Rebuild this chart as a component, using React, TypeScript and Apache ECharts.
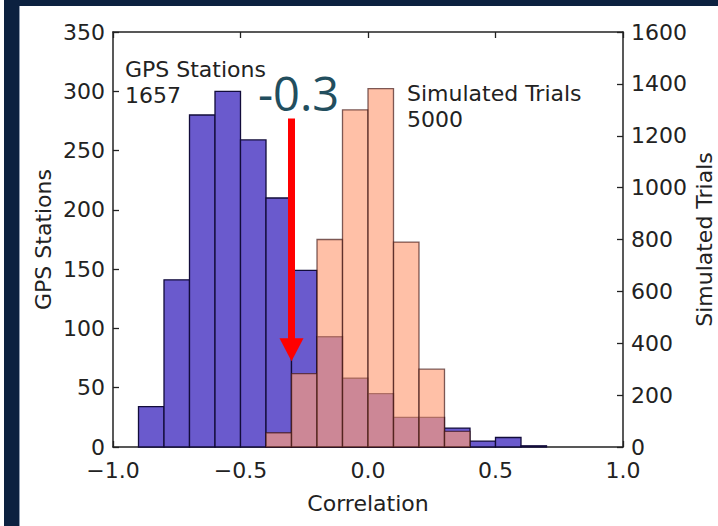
import React, { useEffect, useRef } from "react";
import * as echarts from "echarts";

// Histogram bins (left edge, width 0.1)
const binStarts = [-0.9, -0.8, -0.7, -0.6, -0.5, -0.4, -0.3, -0.2, -0.1, 0.0, 0.1, 0.2, 0.3, 0.4, 0.5, 0.6];
const binWidth = 0.1;
const gpsCounts = [34, 141, 280, 300, 259, 210, 149, 93, 58, 45, 25, 25, 16, 5, 8, 1];
const simCounts = [0, 0, 0, 0, 0, 55, 283, 800, 1300, 1382, 790, 300, 60, 0, 0, 0];
const gpsLabel = "GPS Stations";
const simLabel = "Simulated Trials";
const gpsTotal = "1657";
const simTotal = "5000";
const markerValue = -0.3;
const markerText = "-0.3";
const arrowStart = 277; // in GPS Stations units
const arrowEnd = 82;

const FONT = "DejaVu Sans";
const TXT = "#222";

function histData(counts: number[]) {
  const out: number[][] = [];
  counts.forEach((c, i) => {
    if (c > 0) out.push([binStarts[i], +(binStarts[i] + binWidth).toFixed(2), c]);
  });
  return out;
}

function makeRender(fill: string, stroke: string, opacity: number) {
  return (params: any, api: any) => {
    const x0 = api.value(0);
    const x1 = api.value(1);
    const v = api.value(2);
    const p0 = api.coord([x0, v]);
    const p1 = api.coord([x1, 0]);
    return {
      type: "rect",
      shape: { x: p0[0], y: p0[1], width: p1[0] - p0[0], height: p1[1] - p0[1] },
      style: { fill, stroke, lineWidth: 1.3, opacity },
    };
  };
}

const axisLine = { show: true, onZero: false, lineStyle: { color: "#222", width: 1.5 } };
const axisTick = { show: true, inside: true, length: 6, lineStyle: { color: "#222", width: 1.3 } };

export default function App() {
  const ref = useRef<HTMLDivElement>(null);
  useEffect(() => {
    if (!ref.current) return;
    const chart = echarts.init(ref.current, null, { renderer: "svg" });
    const fmtX = (v: number) => v.toFixed(1).replace("-", "\u2212");
    chart.setOption({
      animation: false,
      backgroundColor: "#ffffff",
      grid: { left: 113, right: 95, top: 32, bottom: 79, containLabel: false, outerBoundsMode: "none" },
      xAxis: [
        {
          type: "value",
          min: -1,
          max: 1,
          interval: 0.5,
          position: "bottom",
          name: "Correlation",
          nameLocation: "middle",
          nameGap: 45,
          nameMoveOverlap: false,
          nameTextStyle: { fontFamily: FONT, fontSize: 22, color: TXT },
          axisLine,
          axisTick,
          axisLabel: { fontFamily: FONT, fontSize: 22, color: TXT, margin: 12, formatter: fmtX },
          splitLine: { show: false },
        },
        {
          type: "value",
          min: -1,
          max: 1,
          interval: 0.5,
          position: "top",
          axisLine,
          axisTick,
          axisLabel: { show: false },
          splitLine: { show: false },
        },
      ],
      yAxis: [
        {
          type: "value",
          min: 0,
          max: 350,
          interval: 50,
          position: "left",
          name: gpsLabel,
          nameLocation: "middle",
          nameGap: 59,
          nameMoveOverlap: false,
          nameTextStyle: { fontFamily: FONT, fontSize: 22, color: TXT },
          axisLine,
          axisTick,
          axisLabel: { fontFamily: FONT, fontSize: 22, color: TXT, margin: 8, formatter: (v: number) => String(v) },
          splitLine: { show: false },
        },
        {
          type: "value",
          min: 0,
          max: 1600,
          interval: 200,
          position: "right",
          name: simLabel,
          nameLocation: "middle",
          nameGap: 70,
          nameMoveOverlap: false,
          nameTextStyle: { fontFamily: FONT, fontSize: 22, color: TXT },
          axisLine,
          axisTick,
          axisLabel: { fontFamily: FONT, fontSize: 22, color: TXT, margin: 8, formatter: (v: number) => String(v) },
          splitLine: { show: false },
        },
      ],
      series: [
        {
          type: "custom",
          name: gpsLabel,
          xAxisIndex: 0,
          yAxisIndex: 0,
          renderItem: makeRender("#6a5acd", "#120c3a", 1),
          encode: { x: [0, 1], y: 2 },
          data: histData(gpsCounts),
          z: 2,
        },
        {
          type: "custom",
          name: simLabel,
          xAxisIndex: 0,
          yAxisIndex: 1,
          renderItem: makeRender("#ffa07a", "#3a1010", 0.66),
          encode: { x: [0, 1], y: 2 },
          data: histData(simCounts),
          z: 3,
        },
        {
          type: "line",
          xAxisIndex: 0,
          yAxisIndex: 0,
          z: 5,
          silent: true,
          lineStyle: { color: "#ff0000", width: 7 },
          itemStyle: { color: "#ff0000" },
          showSymbol: true,
          data: [
            { value: [markerValue, arrowStart], symbol: "none" },
            { value: [markerValue, arrowEnd], symbol: "triangle", symbolRotate: 180, symbolSize: [24, 23] },
          ],
        },
      ],
      graphic: [
        { type: "rect", left: 4, top: 0, shape: { width: 15, height: 526 }, style: { fill: "#0c2140" }, z: 100 },
        { type: "rect", left: 4, top: 0, shape: { width: 714, height: 6 }, style: { fill: "#0c2140" }, z: 100 },
        { type: "rect", left: 19, top: 6, shape: { width: 1, height: 520 }, style: { fill: "#8f9cb0" }, z: 100 },
        {
          type: "text",
          left: 125,
          top: 56,
          z: 50,
          style: { text: gpsLabel + "\n" + gpsTotal, fontFamily: FONT, fontSize: 22, lineHeight: 26, fill: TXT },
        },
        {
          type: "text",
          left: 407,
          top: 80,
          z: 50,
          style: { text: simLabel + "\n" + simTotal, fontFamily: FONT, fontSize: 22, lineHeight: 26, fill: TXT },
        },
        {
          type: "text",
          left: 258,
          top: 69,
          z: 50,
          style: { text: markerText, fontFamily: "Open Sans", fontSize: 47, fill: "#224e5e" },
        },
      ],
    });
    return () => chart.dispose();
  }, []);
  return (
    <div
      ref={ref}
      style={{ position: "fixed", left: 0, top: 0, width: 718, height: 526, background: "#fff" }}
    />
  );
}
